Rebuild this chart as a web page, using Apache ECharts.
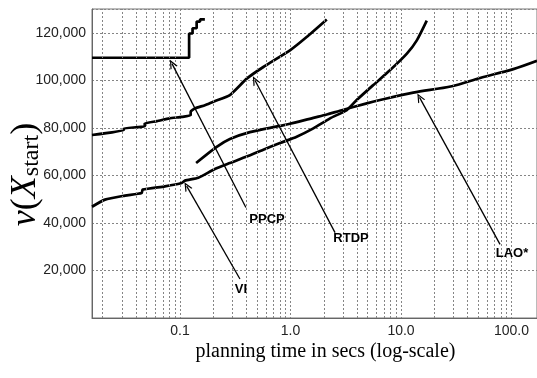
<!DOCTYPE html>
<html>
<head>
<meta charset="utf-8">
<title>v(X_start) vs planning time</title>
<script src="https://cdn.jsdelivr.net/npm/echarts@6/dist/echarts.min.js"></script>
<style>
	html, body { margin: 0; padding: 0; background: #fff; }
	#chart { width: 537px; height: 378px; }
</style>
</head>
<body>
<div id="chart"></div>
<script>
	// tick labels
	var xTicks = [0.1, 1, 10, 100];
	var yTicks = [20000, 40000, 60000, 80000, 100000, 120000];
	// dotted log-scale grid between the decades
	var minorGrid = [0.02, 0.03, 0.04, 0.05, 0.06, 0.07, 0.08, 0.09,
		0.2, 0.3, 0.4, 0.5, 0.6, 0.7, 0.8, 0.9,
		2, 3, 4, 5, 6, 7, 8, 9,
		20, 30, 40, 50, 60, 70, 80, 90];

	// planning time (secs) / value
	var ppcpX = [0.016, 0.121, 0.121, 0.130, 0.130, 0.1416, 0.1416, 0.152, 0.152, 0.168];
	var ppcpY = [109500, 109500, 119700, 119700, 121900, 121900, 124700, 124700, 125600, 125600];

	var rtdpX = [0.016, 0.031, 0.031, 0.048, 0.048, 0.062, 0.08, 0.104, 0.125, 0.125, 0.137, 0.168, 0.2, 0.283, 0.402, 0.568, 0.989, 1.40, 2.13];
	var rtdpY = [77000, 79000, 79800, 80600, 81900, 82800, 84000, 84600, 85300, 86800, 88200, 89500, 91000, 93800, 100700, 105600, 112600, 118200, 125600];

	var laoX = [0.14, 0.215, 0.283, 0.43, 0.804, 0.989, 1.61, 2.13, 2.8, 4.9, 6.46, 12.9, 28.8, 51.9, 103.8, 170];
	var laoY = [65200, 72000, 75300, 78200, 80800, 81700, 84200, 85600, 87200, 90300, 91700, 94800, 97500, 101000, 104700, 108200];

	var viX = [0.016, 0.021, 0.0318, 0.045, 0.046, 0.0731, 0.1036, 0.111, 0.1465, 0.207, 0.283, 0.402, 0.568, 0.804, 1.138, 1.61, 2.28, 3.23, 3.97, 5.61, 7.94, 11.3, 13.9, 17.1];
	var viY = [46800, 49800, 51500, 52600, 54000, 55400, 56800, 57800, 59000, 62700, 65200, 67900, 70800, 73600, 76300, 79800, 84000, 87500, 91700, 98000, 104200, 111200, 116800, 125100];

	// annotations: label position, arrow tail and arrow tip
	var labelNames = ['PPCP', 'RTDP', 'VI', 'LAO*'];
	var labelPos = [[0.613, 41500], [3.53, 33500], [0.356, 12200], [101, 27200]];
	var arrowTail = [[0.395, 46500], [2.53, 35900], [0.349, 16400], [78.7, 31000]];
	var arrowTip = [[0.0847, 107000], [0.477, 100000], [0.115, 55500], [14.7, 92800]];

	function pairs(xs, ys) {
		return xs.map(function (x, i) { return [x, ys[i]]; });
	}

	function isTick(v, list) {
		for (var i = 0; i < list.length; i++) {
			if (Math.abs(v - list[i]) / list[i] < 1e-6) return list[i];
		}
		return null;
	}

	var gridStyle = { color: '#858585', width: 1, type: [2, 2] };

	function curve(name, data, smooth) {
		return {
			name: name,
			type: 'line',
			data: data,
			showSymbol: false,
			smooth: smooth,
			z: 4,
			lineStyle: { color: '#000', width: 2.7 },
			emphasis: { disabled: true }
		};
	}

	let myChart = echarts.init(document.getElementById('chart'));
	let option = {
		animation: false,
		grid: {
			left: 92, right: 0, top: 9, bottom: 60,
			containLabel: false,
			outerBoundsMode: 'none',
			show: true, borderColor: '#777', borderWidth: 1
		},
		xAxis: {
			type: 'log',
			logBase: 10,
			min: 0.016,
			max: 170,
			axisLine: { show: true, lineStyle: { color: '#666', width: 1 } },
			axisTick: { show: false },
			axisLabel: {
				margin: 6,
				color: '#222',
				fontSize: 14,
				fontFamily: 'Liberation Sans',
				formatter: function (v) {
					var t = isTick(v, xTicks);
					return t === null ? '' : t.toFixed(1);
				}
			},
			splitLine: { show: true, lineStyle: gridStyle },
			name: 'planning time in secs (log-scale)',
			nameLocation: 'middle',
			nameGap: 24,
			nameMoveOverlap: false,
			nameTextStyle: {
				fontFamily: 'Liberation Serif',
				fontSize: 20,
				color: '#000',
				padding: [0, 0, 0, 22]
			}
		},
		yAxis: {
			type: 'value',
			min: 0,
			max: 130000,
			interval: 20000,
			axisLine: { show: true, lineStyle: { color: '#666', width: 1 } },
			axisTick: { show: false },
			axisLabel: {
				margin: 6,
				color: '#222',
				fontSize: 14,
				fontFamily: 'Liberation Sans',
				formatter: function (v) {
					var t = isTick(v, yTicks);
					return t === null ? '' : t.toLocaleString('en-US');
				}
			},
			splitLine: { show: true, lineStyle: gridStyle },
			name: '{i|v}{p|(}{i|X}{s|start}{p|)}',
			nameLocation: 'middle',
			nameGap: 48,
			nameMoveOverlap: false,
			nameTextStyle: {
				padding: [0, 0, 0, -22],
				rich: {
					i: { fontFamily: 'Liberation Serif', fontStyle: 'italic', fontSize: 36, color: '#000' },
					p: { fontFamily: 'Liberation Serif', fontSize: 36, color: '#000' },
					s: { fontFamily: 'Liberation Serif', fontSize: 24, color: '#000', verticalAlign: 'bottom', padding: [10, 0, 0, 0] }
				}
			}
		},
		series: [
			{
				name: 'grid',
				type: 'line',
				data: [],
				z: 1,
				markLine: {
					silent: true,
					symbol: 'none',
					label: { show: false },
					lineStyle: gridStyle,
					data: minorGrid.map(function (v) { return { xAxis: v }; })
				}
			},
			curve('PPCP', pairs(ppcpX, ppcpY), false),
			curve('RTDP', pairs(rtdpX, rtdpY), 0.15),
			curve('LAO*', pairs(laoX, laoY), 0.3),
			curve('VI', pairs(viX, viY), 0.2),
			{
				name: 'arrows',
				type: 'line',
				data: [],
				z: 5,
				markLine: {
					silent: true,
					symbol: ['none', 'path://M5,0 L10,10 L8.4,10 L5,3.2 L1.6,10 L0,10 Z'],
					symbolSize: [8, 9],
					label: { show: false },
					itemStyle: { color: '#000' },
					lineStyle: { color: '#000', width: 1.3, type: 'solid' },
					data: arrowTail.map(function (p, i) {
						return [{ coord: p }, { coord: arrowTip[i] }];
					})
				}
			},
			{
				name: 'labels',
				type: 'scatter',
				z: 6,
				symbolSize: 1,
				silent: true,
				itemStyle: { color: 'rgba(0,0,0,0)' },
				labelLayout: { hideOverlap: false },
				data: labelNames.map(function (n, i) {
					return { name: n, value: labelPos[i] };
				}),
				label: {
					show: true,
					position: 'inside',
					formatter: '{b}',
					fontFamily: 'Liberation Sans',
					fontWeight: 'bold',
					fontSize: 13,
					color: '#000',
					opacity: 1,
					textBorderWidth: 0
				}
			}
		]
	};
	myChart.setOption(option);
</script>
</body>
</html>
